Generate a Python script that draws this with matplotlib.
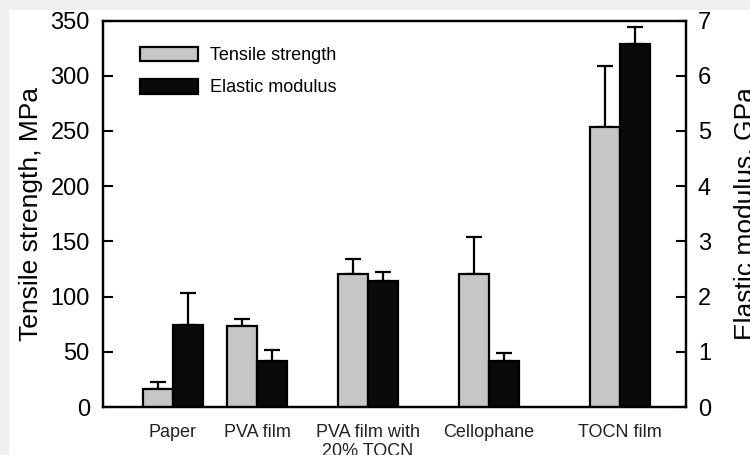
import matplotlib
matplotlib.use("Agg")
import matplotlib.pyplot as plt
from matplotlib.patches import Rectangle, Patch

plt.rcParams["font.family"] = ["Liberation Sans", "DejaVu Sans"]

# ── Data ──────────────────────────────────────────────────────────────────────
categories = ["Paper", "PVA film", "PVA film with\n20% TOCN", "Cellophane", "TOCN film"]
tensile = [16, 73, 120, 120, 254]          # MPa
tensile_err = [7, 7, 14, 34, 55]
modulus = [1.48, 0.83, 2.28, 0.83, 6.58]   # GPa
modulus_err = [0.58, 0.20, 0.16, 0.15, 0.31]

# group centres along the axis (axis spans 0..583)
centres = [70, 154, 265, 386, 517]
bar_w = 30

GRAY = "#c6c6c6"
BLACK = "#0a0a0a"

fig = plt.figure(figsize=(7.5, 4.55), dpi=100)
fig.patch.set_facecolor("#efefef")
# white page area, drawn beneath the axes
page = Rectangle((9 / 750, 0), 1, 1 - 10 / 455, transform=fig.transFigure,
                 facecolor="white", edgecolor="none", zorder=-10)
fig.add_artist(page)

ax = fig.add_axes([103 / 750, 1 - 407 / 455, 583 / 750, 386.5 / 455])
ax.patch.set_alpha(0)
ax2 = ax.twinx()

x_ts = [c - bar_w / 2 for c in centres]
x_em = [c + bar_w / 2 for c in centres]

ax.bar(x_ts, tensile, width=bar_w, color=GRAY, edgecolor="black", linewidth=1.6, zorder=3)
ax.errorbar(x_ts, tensile, yerr=[[0] * len(tensile), tensile_err], fmt="none",
            ecolor="black", elinewidth=1.6, capsize=6, capthick=1.6, zorder=2)

ax2.bar(x_em, modulus, width=bar_w, color=BLACK, edgecolor="black", linewidth=1.6, zorder=3)
ax2.errorbar(x_em, modulus, yerr=[[0] * len(modulus), modulus_err], fmt="none",
             ecolor="black", elinewidth=1.6, capsize=6, capthick=1.6, zorder=2)

ax.set_xlim(0, 583)
ax.set_ylim(0, 350)
ax2.set_ylim(0, 7)
ax.set_yticks(range(0, 351, 50))
ax2.set_yticks(range(0, 8))
ax.set_xticks(centres)
ax.set_xticklabels(categories, fontsize=13, color="#222222", linespacing=1.1)
ax.tick_params(axis="x", length=0, pad=12.5)
ax.tick_params(axis="y", direction="in", length=7, width=1.5, labelsize=17, pad=9.5)
ax2.tick_params(axis="y", direction="in", length=7, width=1.5, labelsize=17, pad=8.5)

for a in (ax, ax2):
    for s in a.spines.values():
        s.set_linewidth(1.6)

ax.set_ylabel("Tensile strength, MPa", fontsize=19, labelpad=5)
ax2.set_ylabel("Elastic modulus, GPa", fontsize=19, labelpad=16)

handles = [Patch(facecolor=GRAY, edgecolor="black", linewidth=1.6, label="Tensile strength"),
           Patch(facecolor=BLACK, edgecolor="black", linewidth=1.6, label="Elastic modulus")]
fig.legend(handles=handles, loc="upper left", bbox_to_anchor=(140 / 750, 1 - 46.5 / 455),
           frameon=False, fontsize=13, handlelength=3.2, handleheight=0.9,
           handletextpad=0.7, labelspacing=0.8, borderpad=0, borderaxespad=0)

fig.savefig("out.png", dpi=100, facecolor=fig.get_facecolor())
